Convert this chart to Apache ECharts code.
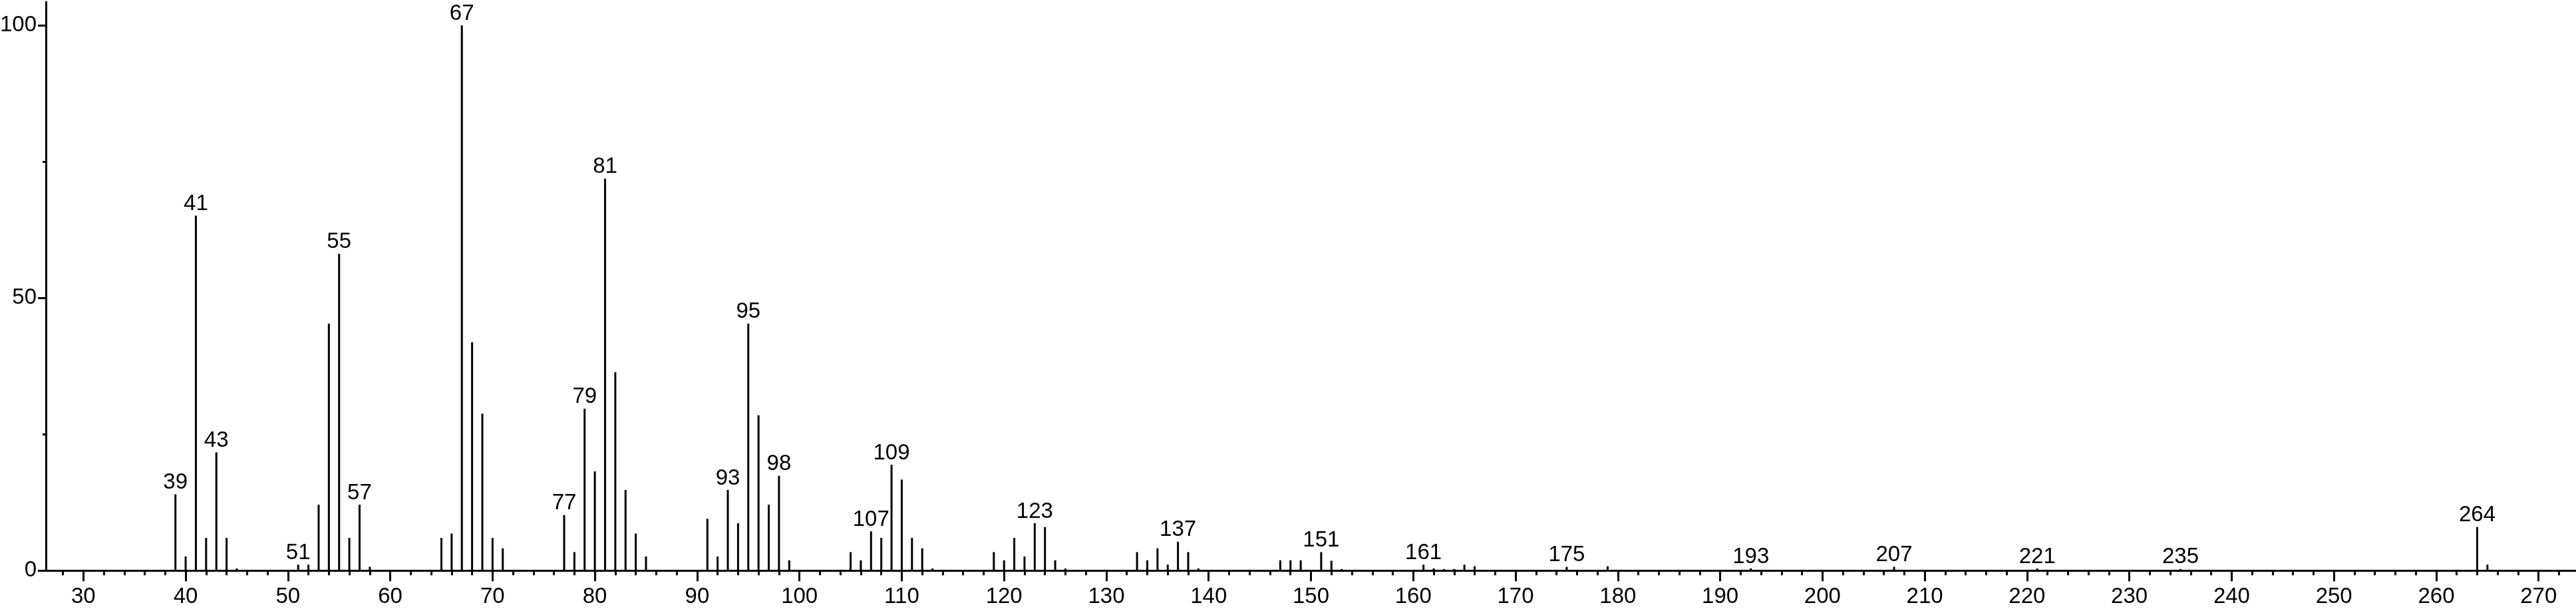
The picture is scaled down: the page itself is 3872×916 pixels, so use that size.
<!DOCTYPE html>
<html>
<head>
<meta charset="utf-8">
<script src="https://cdn.jsdelivr.net/npm/echarts@6/dist/echarts.min.js"></script>
<style>
html,body{margin:0;padding:0;background:#fff;}
#chart{width:3872px;height:916px;}
</style>
</head>
<body>
<div id="chart"></div>
<script>
// m/z values and relative intensities
var mz = [39,40,41,42,43,44,45,51,52,53,54,55,56,57,58,65,66,67,68,69,70,71,77,78,79,80,81,82,83,84,85,
  91,92,93,94,95,96,97,98,99,105,106,107,108,109,110,111,112,113,119,120,121,122,123,124,125,126,
  133,134,135,136,137,138,139,147,148,149,151,152,153,161,162,163,164,165,166,175,179,193,207,221,235,264,265];
var intensity = [14.0,2.6,65.1,6.0,21.7,6.0,0.4,1.1,1.1,12.1,45.3,58.1,6.0,12.1,0.7,6.0,6.8,100,41.9,28.8,6.0,4.1,10.2,3.4,29.7,18.2,71.9,36.4,14.8,6.8,2.6,
  9.5,2.6,14.8,8.7,45.3,28.5,12.1,17.4,1.9,3.4,1.9,7.2,6.0,19.4,16.7,6.0,4.1,0.4,3.4,1.9,6.0,2.6,8.7,8.0,1.9,0.4,
  3.4,1.9,4.1,1.1,5.3,3.4,0.4,1.9,1.9,1.9,3.4,1.8,0.3,1.1,0.4,0.3,0.3,1.1,0.8,0.7,0.8,0.4,0.7,0.4,0.3,8.0,1.1];
var labeledPeaks = [39,41,43,51,55,57,67,77,79,81,93,95,98,107,109,123,137,151,161,175,193,207,221,235,264];
var xMajorTicks = [30,40,50,60,70,80,90,100,110,120,130,140,150,160,170,180,190,200,210,220,230,240,250,260,270];
var xMinorTicks = [28,32,34,36,38,42,44,46,48,52,54,56,58,62,64,66,68,72,74,76,78,82,84,86,88,92,94,96,98,
  102,104,106,108,112,114,116,118,122,124,126,128,132,134,136,138,142,144,146,148,152,154,156,158,
  162,164,166,168,172,174,176,178,182,184,186,188,192,194,196,198,202,204,206,208,212,214,216,218,
  222,224,226,228,232,234,236,238,242,244,246,248,252,254,256,258,262,264,266,268,272];
var yMajorTicks = [0,50,100];
var yMinorTicks = [25,75];

var FONT = '"Liberation Sans", Arial, Helvetica, sans-serif';
var data = mz.map(function (m, i) {
  var item = { value: [m, intensity[i]] };
  if (labeledPeaks.indexOf(m) >= 0) {
    item.label = { show: true, formatter: String(m) };
  }
  return item;
});

var chart = echarts.init(document.getElementById('chart'), null, { renderer: 'canvas' });
chart.setOption({
  animation: false,
  backgroundColor: '#ffffff',
  grid: { left: 69, right: 0, top: 3, bottom: 57.7, containLabel: false, outerBoundsMode: 'none' },
  xAxis: [{
    type: 'value', min: 26.34, max: 273.66, position: 'bottom',
    axisLine: { show: true, onZero: false, lineStyle: { color: '#000', width: 3 } },
    axisTick: { show: true, customValues: xMajorTicks, length: 16, lineStyle: { color: '#000', width: 3 } },
    axisLabel: { show: true, customValues: xMajorTicks, fontSize: 33, color: '#000', fontFamily: FONT, margin: 23 },
    splitLine: { show: false }
  }, {
    type: 'value', min: 26.34, max: 273.66, position: 'bottom', offset: 0,
    axisLine: { show: false },
    axisTick: { show: true, customValues: xMinorTicks, length: 7, lineStyle: { color: '#000', width: 3 } },
    axisLabel: { show: false },
    splitLine: { show: false }
  }],
  yAxis: [{
    type: 'value', min: 0, max: 104.3, position: 'left',
    axisLine: { show: true, lineStyle: { color: '#000', width: 3 } },
    axisTick: { show: true, customValues: yMajorTicks, length: 12, lineStyle: { color: '#000', width: 3 } },
    axisLabel: { show: true, customValues: yMajorTicks, fontSize: 33, color: '#000', fontFamily: FONT, margin: 14 },
    splitLine: { show: false }
  }, {
    type: 'value', min: 0, max: 104.3, position: 'left', offset: 0,
    axisLine: { show: false },
    axisTick: { show: true, customValues: yMinorTicks, length: 5, lineStyle: { color: '#000', width: 3 } },
    axisLabel: { show: false },
    splitLine: { show: false }
  }],
  series: [{
    type: 'bar',
    xAxisIndex: 0, yAxisIndex: 0,
    barWidth: 3,
    itemStyle: { color: '#000' },
    label: { show: false, position: 'top', distance: 1, fontSize: 33, color: '#000', fontFamily: FONT },
    data: data
  }]
});
</script>
</body>
</html>
